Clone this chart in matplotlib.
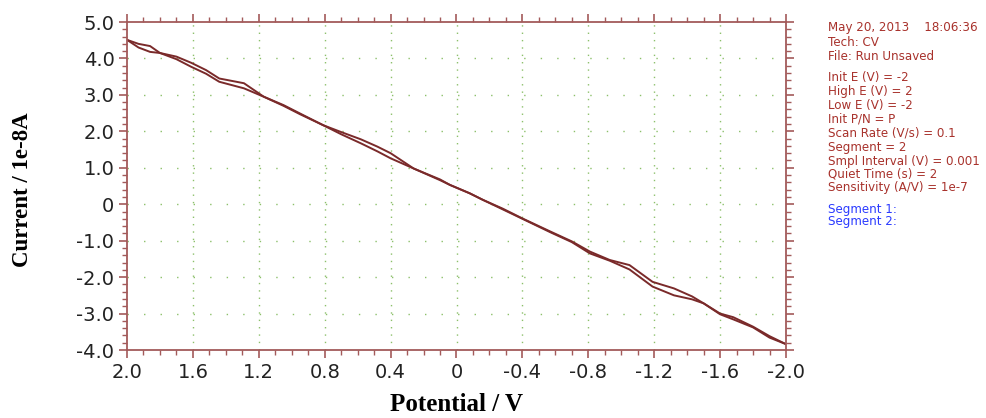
# CV curve (Current vs Potential) — two segments, same colour
import matplotlib
matplotlib.use("Agg")
import matplotlib.pyplot as plt
from matplotlib.ticker import MultipleLocator, FuncFormatter

# ----------------------------
# data
# ----------------------------
potential = [2.0, 1.93, 1.86, 1.80, 1.70, 1.61, 1.52, 1.44, 1.29, 1.17, 1.05, 0.95,
             0.81, 0.70, 0.58, 0.48, 0.40, 0.26, 0.10, 0.04, -0.08, -0.16, -0.28,
             -0.40, -0.57, -0.70, -0.81, -0.93, -1.05, -1.19, -1.32, -1.43, -1.50,
             -1.60, -1.68, -1.80, -1.90, -2.0]
segment1 = [4.51, 4.40, 4.34, 4.15, 4.05, 3.88, 3.68, 3.45, 3.32, 2.95, 2.72, 2.49,
            2.17, 1.98, 1.78, 1.58, 1.40, 0.98, 0.68, 0.53, 0.30, 0.12, -0.12,
            -0.39, -0.75, -1.02, -1.30, -1.53, -1.67, -2.13, -2.31, -2.53, -2.72,
            -3.00, -3.10, -3.36, -3.62, -3.84]
segment2 = [4.51, 4.30, 4.18, 4.15, 3.98, 3.77, 3.58, 3.36, 3.18, 2.95, 2.70, 2.47,
            2.17, 1.92, 1.67, 1.45, 1.26, 0.98, 0.66, 0.53, 0.30, 0.12, -0.14,
            -0.40, -0.77, -1.04, -1.35, -1.55, -1.79, -2.26, -2.50, -2.61, -2.72,
            -3.02, -3.16, -3.38, -3.66, -3.84]

info_lines = ["May 20, 2013    18:06:36", "Tech: CV", "File: Run Unsaved",
              "Init E (V) = -2", "High E (V) = 2", "Low E (V) = -2", "Init P/N = P",
              "Scan Rate (V/s) = 0.1", "Segment = 2", "Smpl Interval (V) = 0.001",
              "Quiet Time (s) = 2", "Sensitivity (A/V) = 1e-7"]
info_y = [28, 42, 56, 77, 91, 105, 119, 133, 147, 161, 174, 188]
segment_labels = ["Segment 1:", "Segment 2:"]
segment_y = [209, 222]

axis_col = "#a35a5a"
line_col = "#7a2a2a"
grid_col = "#8cc06a"

fig = plt.figure(figsize=(9.87, 4.18), dpi=100)
ax = fig.add_axes([127/987, 1-350/418, (786-127)/987, (350-22)/418])

ax.plot(potential, segment1, color=line_col, lw=1.4)
ax.plot(potential, segment2, color=line_col, lw=1.4)

ax.set_xlim(2.0, -2.0)
ax.set_ylim(-4.0, 5.0)

ax.xaxis.set_major_locator(MultipleLocator(0.4))
ax.xaxis.set_minor_locator(MultipleLocator(0.1))
ax.yaxis.set_major_locator(MultipleLocator(1.0))
ax.yaxis.set_minor_locator(MultipleLocator(0.2))

def fmt(v, pos):
    if abs(v) < 1e-9:
        return "0"
    return "%.1f" % v

ax.xaxis.set_major_formatter(FuncFormatter(fmt))
ax.yaxis.set_major_formatter(FuncFormatter(fmt))

for s in ax.spines.values():
    s.set_color(axis_col)
    s.set_linewidth(1.3)

ax.tick_params(which="both", direction="out", color=axis_col,
               top=True, right=True, labeltop=False, labelright=False)
ax.tick_params(which="major", length=6, width=1.2, labelsize=14, pad=3)
ax.tick_params(which="minor", length=3.5, width=1.0)
for lab in ax.get_xticklabels() + ax.get_yticklabels():
    lab.set_fontfamily("DejaVu Sans")
    lab.set_color("#222222")

# green dotted grid
for xv in [1.6, 1.2, 0.8, 0.4, 0.0, -0.4, -0.8, -1.2, -1.6]:
    ax.axvline(xv, color=grid_col, lw=1.0, ls=(0, (1, 4.3)), zorder=0)
for yv in [4, 3, 2, 1, 0, -1, -2, -3]:
    ax.axhline(yv, color=grid_col, lw=1.0, ls=(0, (1, 10.9)), zorder=0)

ax.set_xlabel("Potential / V", fontfamily="Liberation Serif", fontweight="bold",
              fontsize=18)
ax.set_ylabel("Current / 1e-8A", fontfamily="Liberation Serif", fontweight="bold",
              fontsize=16.5)
ax.xaxis.set_label_coords((457-127)/659, (350-393)/328)
ax.yaxis.set_label_coords((33-127)/659, (350-190)/328)

# info text on the right
for txt, yp in zip(info_lines, info_y):
    fig.text(828/987, 1-yp/418, txt, fontsize=8.6, color="#a8322c",
             fontfamily="DejaVu Sans", va="center", ha="left")
for txt, yp in zip(segment_labels, segment_y):
    fig.text(828/987, 1-yp/418, txt, fontsize=8.6, color="#2b3bff",
             fontfamily="DejaVu Sans", va="center", ha="left")

fig.savefig("out.png", dpi=100)
